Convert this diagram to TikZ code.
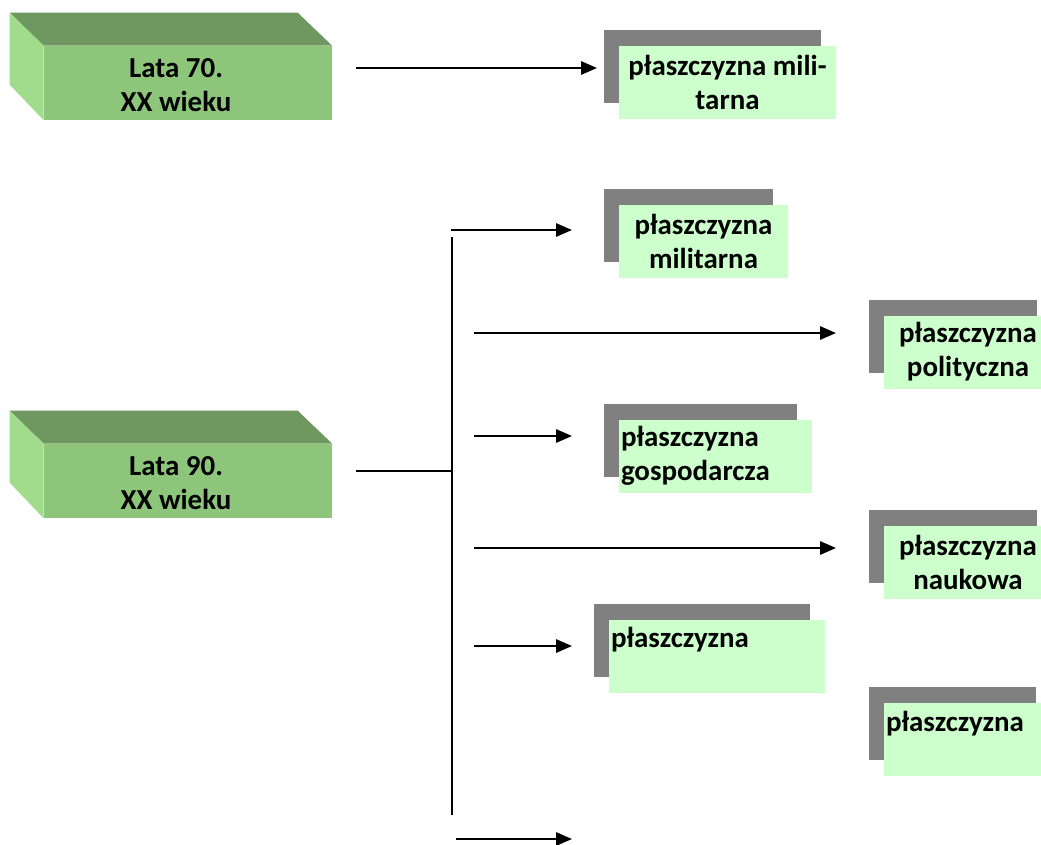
\documentclass[tikz,border=0pt]{standalone}
\usepackage{fontspec}
\setmainfont{Carlito}
\usetikzlibrary{arrows.meta,shadows}

\definecolor{facegreen}{HTML}{8DC67B}
\definecolor{topgreen}{HTML}{6E9860}
\definecolor{sidegreen}{HTML}{A0DC8C}
\definecolor{planegreen}{HTML}{CCFFCC}
\definecolor{planegray}{HTML}{808080}

\begin{document}
\begin{tikzpicture}[
  x=0.75pt,y=-0.75pt,
  font=\fontsize{21.7}{25.5}\selectfont\bfseries,
  face/.style={fill=facegreen,minimum width=216pt,minimum height=55.5pt,inner sep=0pt},
  title/.style={align=center,inner sep=0pt},
  plane/.style={fill=planegreen,minimum height=54.75pt,inner sep=1.5pt,align=center,
    general shadow={fill=planegray,shadow xshift=-11.25pt,shadow yshift=12pt}},
  link/.style={line width=1.5pt},
  arr/.style={link,-{Triangle[length=12pt,width=10pt]}}
]
  \clip (0,0) rectangle (1041,844);

  % 3D boxes
  \node[face] (face70) at (188,83) {};
  \fill[topgreen] (face70.north west) -- ++(-34,-33) -- ++(288,0) -- (face70.north east) -- cycle;
  \fill[sidegreen] (face70.north west) -- ++(-34,-33) -- ++(0,72) -- (face70.south west) -- cycle;
  \node[title] (lata70) at ([shift={(-12,2)}]face70.center) {Lata 70.\\XX wieku};

  \node[face] (face90) at (188,481) {};
  \fill[topgreen] (face90.north west) -- ++(-34,-33) -- ++(288,0) -- (face90.north east) -- cycle;
  \fill[sidegreen] (face90.north west) -- ++(-34,-33) -- ++(0,72) -- (face90.south west) -- cycle;
  \node[title] (lata90) at ([shift={(-12,2)}]face90.center) {Lata 90.\\XX wieku};

  % planes
  \node[plane,minimum width=162.75pt] (mil70) at (727.5,82.5) {płaszczyzna mili-\\tarna};
  \node[plane,minimum width=126.75pt] (mil90) at (703.5,241.5) {płaszczyzna\\militarna};
  \node[plane,minimum width=126pt] (pol) at (968,352) {płaszczyzna\\polityczna};
  \node[plane,text width=141.75pt,align=left] (gosp) at (715.5,456) {płaszczyzna\\gospodarcza};
  \node[plane,minimum width=126pt] (nauk) at (968,562.5) {płaszczyzna\\naukowa};
  \node[plane,minimum width=162pt] (cut1) at (717,656) {};
  \node[anchor=base west,inner sep=0pt] (cut1txt) at ([shift={(2,28)}]cut1.north west) {płaszczyzna};
  \node[plane,minimum width=125.25pt] (cut2) at (967.5,739.5) {};
  \node[anchor=base west,inner sep=0pt] (cut2txt) at ([shift={(2,29)}]cut2.north west) {płaszczyzna};

  % connector ends
  \coordinate (s70) at (356,68);
  \coordinate (e70) at (597,68);
  \coordinate (s90) at (356,471);
  \coordinate (forktop) at (452,237);
  \coordinate (forkbot) at (452,815);
  \coordinate (fork90) at (452,471);
  \coordinate (b1s) at (451,230);  \coordinate (b1e) at (572,230);
  \coordinate (b2s) at (474,333);  \coordinate (b2e) at (836,333);
  \coordinate (b3s) at (474,436);  \coordinate (b3e) at (572,436);
  \coordinate (b4s) at (474,548);  \coordinate (b4e) at (836,548);
  \coordinate (b5s) at (474,646);  \coordinate (b5e) at (572,646);
  \coordinate (b6s) at (456,839);  \coordinate (b6e) at (572,839);

  \draw[arr] (s70) -- (e70);
  \draw[link] (s90) -- (fork90);
  \draw[link] (forktop) -- (forkbot);
  \draw[arr] (b1s) -- (b1e);
  \draw[arr] (b2s) -- (b2e);
  \draw[arr] (b3s) -- (b3e);
  \draw[arr] (b4s) -- (b4e);
  \draw[arr] (b5s) -- (b5e);
  \draw[arr] (b6s) -- (b6e);
\end{tikzpicture}
\end{document}
